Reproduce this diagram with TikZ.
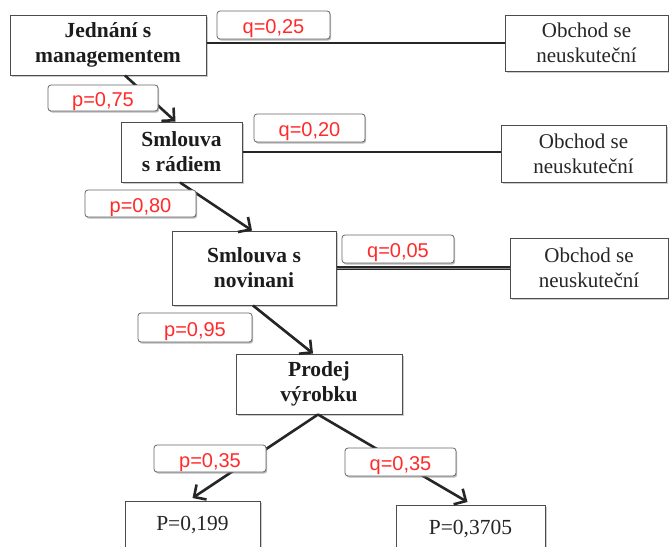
\documentclass[tikz,border=0pt]{standalone}
\usepackage{fontspec}
\setmainfont{Liberation Serif}
\newfontfamily\labelfont{Liberation Sans}
\usetikzlibrary{arrows.meta,shadows,calc}
\definecolor{probred}{HTML}{FF2A2A}
\definecolor{inkgray}{HTML}{1C1C1C}

\begin{document}
\begin{tikzpicture}[x=1pt,y=-1pt,
  boxshadow/.style={drop shadow={shadow xshift=1.5pt, shadow yshift=-1.5pt, fill=black!40}},
  stage/.style={draw=black!70, line width=1pt, fill=white, align=center, inner sep=0pt,
    font=\fontsize{21.5}{25}\selectfont\bfseries, text=inkgray, boxshadow},
  outcome/.style={draw=black!70, line width=1pt, fill=white, align=center, inner sep=0pt,
    font=\fontsize{21}{25}\selectfont, text=black!85, boxshadow},
  result/.style={draw=black!70, line width=1pt, fill=white, anchor=north, inner xsep=0pt,
    inner ysep=15pt, text height=14pt, text depth=4pt,
    font=\fontsize{21.5}{25}\selectfont, text=black!85, boxshadow},
  prob/.style={draw=black!60, line width=0.8pt, rounded corners=3pt, fill=white, inner sep=0pt,
    text height=17.5pt, text depth=0pt,
    font=\labelfont\fontsize{20}{22}\selectfont, text=probred,
    drop shadow={shadow xshift=1.2pt, shadow yshift=-1.6pt, fill=black!55}},
  flow/.style={line width=2.6pt, draw=black!85,
    -{Straight Barb[length=9pt,width=18pt]}},
  stopline/.style={line width=1.5pt, draw=black!85},
  stopdouble/.style={line width=1.2pt, draw=black!85, double=black!45, double distance=1pt}
]
\useasboundingbox (0,0) rectangle (669,546);

% main chain of negotiation stages
\node[stage, minimum width=196pt, minimum height=60pt] (jed) at (108,45) {Jednání s\\managementem};
\node[stage, minimum width=121pt, minimum height=60pt] (rad) at (181.5,152) {Smlouva\\s rádiem};
\node[stage, minimum width=164pt, minimum height=74pt] (nov) at (254,268) {Smlouva s\\novinani};
\node[stage, minimum width=166pt, minimum height=60pt] (pro) at (319,384) {Prodej\\výrobku};

% failed outcomes on the right
\node[outcome, minimum width=163pt, minimum height=56pt] (ob1) at (586.5,43) {Obchod se\\neuskuteční};
\node[outcome, minimum width=165pt, minimum height=57pt] (ob2) at (583.5,153.5) {Obchod se\\neuskuteční};
\node[outcome, minimum width=158pt, minimum height=60pt] (ob3) at (589,268) {Obchod se\\neuskuteční};

% final results
\node[result, minimum width=135pt] (r1) at (192.5,501) {P=0,199};
\node[result, minimum width=149pt] (r2) at (470.5,505) {P=0,3705};

% connectors to the failed outcomes
\draw[stopline] (jed.east |- ob1.west) -- (ob1.west);
\draw[stopline] (rad.east) -- (rad.east -| ob2.west);
\draw[stopdouble] (nov.east) -- (ob3.west);

% success arrows
\draw[flow] ($(jed.south)+(17,0)$) -- ($(rad.north)+(-6,0)$);
\draw[flow] ($(rad.south)+(-1.5,0)$) -- ($(nov.north)+(-2,0)$);
\draw[flow] ($(nov.south)+(-1,0)$) -- ($(pro.north)+(-6,0)$);
\draw[flow] ($(pro.south)+(-1,0)$) -- ($(r1.north)+(0,-3)$);
\draw[flow] ($(pro.south)+(-1,0)$) -- ($(r2.north)+(-3,-3)$);

% probability labels
\node[prob, minimum width=113pt, minimum height=28pt] (q1) at (273.5,25) {q=0,25};
\node[prob, minimum width=110pt, minimum height=26pt] (p1) at (103,98) {p=0,75};
\node[prob, minimum width=111pt, minimum height=28pt] (q2) at (309.5,128) {q=0,20};
\node[prob, minimum width=111pt, minimum height=27pt] (p2) at (140.5,203.5) {p=0,80};
\node[prob, minimum width=112pt, minimum height=28pt] (q3) at (398,249) {q=0,05};
\node[prob, minimum width=114pt, minimum height=29pt] (p3) at (195,327.5) {p=0,95};
\node[prob, minimum width=112pt, minimum height=27pt] (p4) at (210,458.5) {p=0,35};
\node[prob, minimum width=111pt, minimum height=28pt] (q4) at (400.5,462) {q=0,35};
\end{tikzpicture}
\end{document}
